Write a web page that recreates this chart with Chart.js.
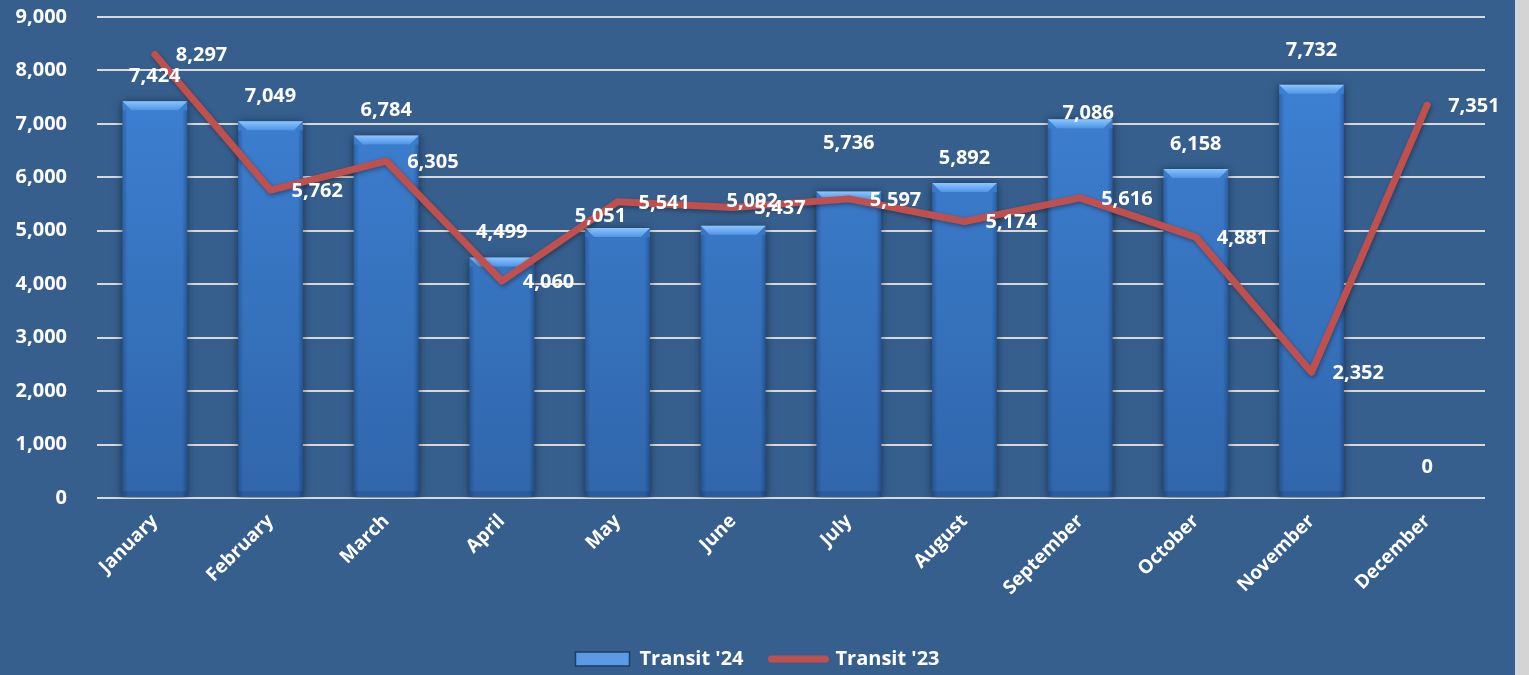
<!DOCTYPE html>
<html>
<head>
<meta charset="utf-8">
<script src="https://cdn.jsdelivr.net/npm/chart.js@4.4.1/dist/chart.umd.min.js"></script>
<style>
  html, body { margin: 0; padding: 0; background: #d4d4d4; }
  #wrap { position: absolute; left: 0; top: 0; width: 1515px; height: 675px; background: #365F8E; }
  canvas { display: block; }
</style>
</head>
<body>
<div id="wrap"><canvas id="c"></canvas></div>
<script>
const months = ['January','February','March','April','May','June','July','August','September','October','November','December'];
const transit24 = [7424, 7049, 6784, 4499, 5051, 5092, 5736, 5892, 7086, 6158, 7732, 0];
const transit23 = [8297, 5762, 6305, 4060, 5541, 5437, 5597, 5174, 5616, 4881, 2352, 7351];
const yTicks = [0, 1000, 2000, 3000, 4000, 5000, 6000, 7000, 8000, 9000];

// label nudges (styling only), px
const barLabelDx = [0, 0, 0, 0, -17, 19, 0, 0, 8, 0, 0, 0];
const barLabelDy = [0, 0, 0, 0, 13, 0, -23, 0, 19, 0, -9, -6];

const FONT = '"Open Sans", "DejaVu Sans", sans-serif';
const fmt = v => v.toLocaleString('en-US');

const barShadow = {
  id: 'barShadow',
  afterLayout(chart) {
    if (chart.legend) { chart.legend.left += 15; chart.legend.right += 15; }
  },
  beforeDatasetDraw(chart, args) {
    const ctx = chart.ctx;
    ctx.save();
    if (args.index === 0) {
      ctx.shadowColor = 'rgba(0,0,0,0.5)';
      ctx.shadowBlur = 8;
      ctx.shadowOffsetX = 0;
      ctx.shadowOffsetY = 1;
    } else {
      ctx.shadowColor = 'rgba(0,0,0,0.35)';
      ctx.shadowBlur = 4;
      ctx.shadowOffsetX = 1;
      ctx.shadowOffsetY = 2;
    }
  },
  afterDatasetDraw(chart, args) {
    const ctx = chart.ctx;
    ctx.restore();
    if (args.index !== 0) return;
    const meta = chart.getDatasetMeta(0);
    meta.data.forEach(el => {
      const w = el.width, top = el.y, base = el.base;
      const h = base - top;
      if (h < 2) return;
      const l = el.x - w / 2, r = el.x + w / 2;
      const b = Math.min(9, h / 2);
      ctx.save();
      const g = ctx.createLinearGradient(0, top, 0, top + b);
      g.addColorStop(0, '#8cc4ff');
      g.addColorStop(1, '#4f95e6');
      ctx.fillStyle = g;
      ctx.beginPath();
      ctx.moveTo(l, top); ctx.lineTo(r, top); ctx.lineTo(r - b, top + b); ctx.lineTo(l + b, top + b); ctx.closePath();
      ctx.fill();
      const sg = ctx.createLinearGradient(l, 0, r, 0);
      sg.addColorStop(0, 'rgba(0,20,60,0.25)');
      sg.addColorStop(0.08, 'rgba(0,20,60,0)');
      sg.addColorStop(0.92, 'rgba(0,20,60,0)');
      sg.addColorStop(1, 'rgba(0,20,60,0.3)');
      ctx.fillStyle = sg;
      ctx.fillRect(l, top + b, w, h - b);
      ctx.fillStyle = 'rgba(0,20,60,0.12)';
      ctx.fillRect(l, base - 6, w, 6);
      ctx.restore();
    });
  }
};

const valueLabels = {
  id: 'valueLabels',
  afterDatasetsDraw(chart) {
    const ctx = chart.ctx;
    ctx.save();
    ctx.font = 'bold 20px ' + FONT;
    ctx.fillStyle = '#ffffff';
    ctx.textBaseline = 'middle';
    const bars = chart.getDatasetMeta(0).data;
    ctx.textAlign = 'center';
    bars.forEach((el, i) => {
      ctx.fillText(fmt(transit24[i]), el.x + barLabelDx[i], el.y - 25 + barLabelDy[i]);
    });
    const pts = chart.getDatasetMeta(1).data;
    ctx.textAlign = 'left';
    pts.forEach((el, i) => {
      ctx.fillText(fmt(transit23[i]), el.x + 21, el.y + 1);
    });
    ctx.restore();
  }
};

new Chart(document.getElementById('c'), {
  data: {
    labels: months,
    datasets: [
      {
        type: 'bar',
        label: "Transit '24",
        data: transit24,
        order: 1,
        backgroundColor(ctx) {
          const ca = ctx.chart.chartArea;
          if (!ca) return '#3672c0';
          const g = ctx.chart.ctx.createLinearGradient(0, ca.top, 0, ca.bottom);
          g.addColorStop(0, '#3f84d8');
          g.addColorStop(1, '#3066ab');
          return g;
        },
        borderWidth: 0,
        categoryPercentage: 1,
        barPercentage: 0.56
      },
      {
        type: 'line',
        label: "Transit '23",
        data: transit23,
        order: 0,
        borderColor: '#C0504D',
        borderWidth: 7,
        borderCapStyle: 'round',
        borderJoinStyle: 'round',
        pointRadius: 0,
        pointHoverRadius: 0,
        tension: 0,
        fill: false
      }
    ]
  },
  options: {
    responsive: true,
    maintainAspectRatio: false,
    animation: false,
    events: [],
    layout: { padding: { top: 17, right: 30, bottom: -4, left: 0 } },
    scales: {
      x: {
        offset: true,
        grid: { display: false },
        border: { display: false },
        afterFit(scale) { scale.height = 123; },
        ticks: {
          color: '#ffffff',
          font: { family: FONT, size: 19, weight: 'bold' },
          minRotation: 45,
          maxRotation: 45,
          autoSkip: false,
          padding: 4
        }
      },
      y: {
        min: 0,
        max: 9000,
        afterFit(scale) { scale.width = 97; },
        afterBuildTicks(scale) { scale.ticks = yTicks.map(v => ({ value: v })); },
        grid: { color: '#d9d9d9', lineWidth: 2, drawTicks: true, tickLength: 30, tickColor: 'rgba(0,0,0,0)' },
        border: { display: false },
        ticks: {
          color: '#ffffff',
          font: { family: FONT, size: 20, weight: 'bold' },
          padding: 0,
          callback: v => fmt(v)
        }
      }
    },
    plugins: {
      tooltip: { enabled: false },
      legend: {
        position: 'bottom',
        labels: {
          color: '#ffffff',
          font: { family: FONT, size: 20, weight: 'bold' },
          usePointStyle: true,
          pointStyleWidth: 54,
          boxHeight: 14,
          padding: 28,
          generateLabels(chart) {
            const ds = chart.data.datasets;
            return [
              { text: ds[0].label, fillStyle: '#5a9ae6', strokeStyle: '#1f3c66', lineWidth: 1.5, pointStyle: 'rect', datasetIndex: 0, fontColor: '#ffffff' },
              { text: ds[1].label, fillStyle: '#C0504D', strokeStyle: '#C0504D', lineWidth: 7, lineCap: 'round', pointStyle: 'line', datasetIndex: 1, fontColor: '#ffffff' }
            ];
          }
        }
      }
    }
  },
  plugins: [barShadow, valueLabels]
});
</script>
</body>
</html>
